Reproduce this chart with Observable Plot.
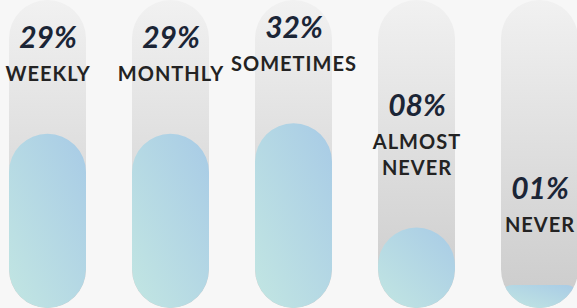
<!DOCTYPE html>
<html><head><meta charset="utf-8">
<script src="https://cdn.jsdelivr.net/npm/d3@7"></script>
<script src="https://cdn.jsdelivr.net/npm/@observablehq/plot@0.6"></script>
<style>
html,body{margin:0;padding:0;background:#f7f7f7;}
#chart svg{display:block;}
</style></head><body><div id="chart"></div>
<script>
const categories = ["WEEKLY", "MONTHLY", "SOMETIMES", "ALMOST\nNEVER", "NEVER"];
const percents = [29, 29, 32, 8, 1];
const scaleMax = 75;

const data = categories.map((c, i) => ({
  category: c,
  value: percents[i],
  label: String(percents[i]).padStart(2, "0") + "%",
  lines: c.split("\n").length
}));

const W = 577, H = 308;
const pctStyle = {fontFamily: "Lato", fontWeight: "bold", fontStyle: "italic", fontSize: 30, fill: "#1b2536", lineAnchor: "bottom"};

const chart = Plot.plot({
  width: W, height: H, margin: 0,
  style: {background: "#f7f7f7"},
  x: {type: "band", domain: categories, range: [8, 579], paddingInner: 0.376, paddingOuter: 0, axis: null},
  y: {type: "pow", exponent: 0.6, domain: [0, scaleMax], range: [H, 0], axis: null},
  marks: [
    Plot.barY(data, {x: "category", y1: () => 0, y2: () => scaleMax, fill: "url(#trackGrad)"}),
    Plot.barY(data, {x: "category", y1: () => 0, y2: "value", fill: "url(#fillGrad)"}),
    Plot.text(data, {x: "category", y: "value", text: "category", lineAnchor: "bottom", dy: -53, lineHeight: 1.3,
      fontFamily: "Lato", fontWeight: "bold", fontSize: 20, fill: "#232323"}),
    Plot.text(data.filter(d => d.lines === 1), {x: "category", y: "value", text: "label", dy: -86, ...pctStyle}),
    Plot.text(data.filter(d => d.lines === 2), {x: "category", y: "value", text: "label", dy: -112, ...pctStyle})
  ]
});
document.getElementById("chart").appendChild(chart);

const svg = d3.select(chart);
const defs = svg.insert("defs", ":first-child");
const tg = defs.append("linearGradient").attr("id", "trackGrad").attr("x1", 0).attr("y1", 0).attr("x2", 0).attr("y2", 1);
tg.append("stop").attr("offset", "0%").attr("stop-color", "#f1f1f1");
tg.append("stop").attr("offset", "100%").attr("stop-color", "#cbcbcb");
const fg = defs.append("linearGradient").attr("id", "fillGrad").attr("x1", 0).attr("y1", 1).attr("x2", 1).attr("y2", 0);
fg.append("stop").attr("offset", "0%").attr("stop-color", "#c2e6e2");
fg.append("stop").attr("offset", "100%").attr("stop-color", "#a8cbe6");

function roundRect(x, y, w, h, r) {
  return `M${x + r},${y}H${x + w - r}A${r},${r} 0 0 1 ${x + w},${y + r}V${y + h - r}A${r},${r} 0 0 1 ${x + w - r},${y + h}H${x + r}A${r},${r} 0 0 1 ${x},${y + h - r}V${y + r}A${r},${r} 0 0 1 ${x + r},${y}Z`;
}
function toRounded(node, rFn) {
  const b = node.getBBox();
  const r = rFn(b.width, b.height);
  const p = document.createElementNS("http://www.w3.org/2000/svg", "path");
  p.setAttribute("d", roundRect(b.x, b.y, b.width, b.height, r));
  const f = node.getAttribute("fill");
  if (f) p.setAttribute("fill", f);
  node.parentNode.replaceChild(p, node);
  return p;
}

const barGroups = svg.selectAll('g[aria-label="bar"]').nodes();
const trackNodes = d3.select(barGroups[0]).selectAll("rect, path").nodes()
  .map(n => toRounded(n, (w, h) => w / 2));
d3.select(barGroups[1]).selectAll("rect, path").nodes().forEach((n, i) => {
  const p = toRounded(n, (w, h) => Math.min(w, h) / 2);
  const cp = defs.append("clipPath").attr("id", "clip" + i);
  const c = trackNodes[i].cloneNode();
  c.removeAttribute("fill");
  cp.node().appendChild(c);
  p.setAttribute("clip-path", `url(#clip${i})`);
});
const textGroups = svg.selectAll('g[aria-label="text"]').nodes();
d3.select(textGroups[0]).selectAll("text").attr("letter-spacing", 1);
</script></body></html>
